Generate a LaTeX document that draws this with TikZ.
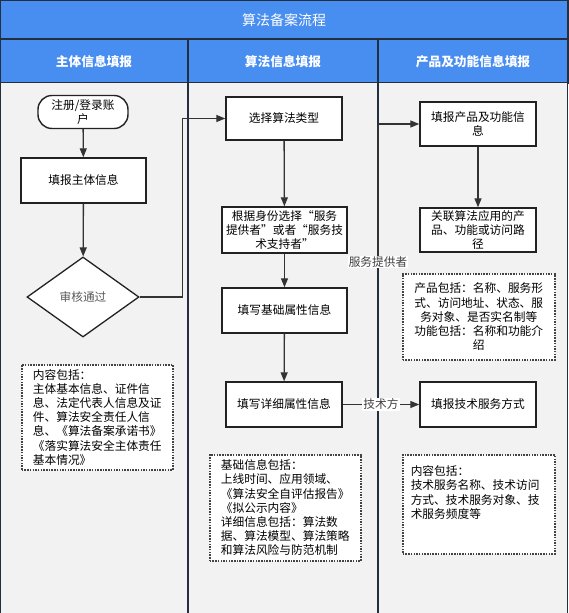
\documentclass[tikz,border=0pt]{standalone}
\usepackage{fontspec}
\setmainfont{Noto Sans CJK SC}
\usetikzlibrary{arrows.meta,shapes.geometric}
\definecolor{headblue}{RGB}{72,141,240}
\definecolor{lanegray}{RGB}{242,242,242}
\definecolor{lanedark}{RGB}{35,47,62}
\definecolor{boxdark}{RGB}{34,34,34}
\definecolor{flowgray}{RGB}{51,51,51}
\newcommand{\boxfont}{\fontsize{11.7}{14.2}\selectfont}

\begin{document}
\begin{tikzpicture}[x=1pt,y=-1pt,
    lanehead/.style={text=white, font=\fontsize{12.7}{15}\selectfont\bfseries},
    stepbox/.style={draw=boxdark, line width=1.4pt, fill=white, align=center,
      minimum width=116pt, minimum height=44pt, inner sep=1pt, font=\boxfont},
    startbox/.style={stepbox, rounded corners=14pt, minimum width=90pt, minimum height=33pt},
    checkbox/.style={draw=boxdark, line width=1.3pt, fill=white, diamond, inner sep=0pt,
      minimum width=112pt, minimum height=80pt, text=black!65, font=\boxfont},
    notebox/.style={draw=boxdark!85, line width=1.5pt, dash pattern=on 1.5pt off 1.2pt,
      fill=white, font=\boxfont, inner xsep=8pt, inner ysep=3pt},
    flow/.style={draw=flowgray, line width=1.3pt, -{Triangle[length=9pt,width=7pt]}},
    edgelabel/.style={fill=white, text=black!75, inner sep=1pt, font=\boxfont}]
      \useasboundingbox (0,0) rectangle (568,613);

      % Title bar and lane headers
      \draw[fill=headblue, draw=lanedark, line width=1.5pt] (0,0) rectangle (568,39);
      \node[text=white, font=\fontsize{14}{16}\selectfont] (title) at (284,20) {算法备案流程};
      \draw[fill=headblue, draw=lanedark, line width=1.5pt] (0,39) rectangle (188,83);
      \draw[fill=headblue, draw=lanedark, line width=1.5pt] (188,39) rectangle (378,83);
      \draw[fill=headblue, draw=lanedark, line width=1.5pt] (378,39) rectangle (568,83);
      \node[lanehead] (h1) at (94,62) {主体信息填报};
      \node[lanehead] (h2) at (283,62) {算法信息填报};
      \node[lanehead] (h3) at (473,62) {产品及功能信息填报};

      % Lane bodies
      \fill[lanegray] (0,83) rectangle (568,613);
      \draw[lanedark, line width=1.8pt] (0.5,83) -- (0.5,613);
      \draw[lanedark, line width=1.8pt] (188,83) -- (188,613);
      \draw[lanedark, line width=1.8pt] (378,83) -- (378,613);
      \draw[lanedark, line width=1.2pt] (567.5,83) -- (567.5,613);

      % Lane 1
      \node[startbox] (login) at (83,112) {注册/登录账\\户};
      \node[stepbox, minimum width=125pt, minimum height=45pt] (subj) at (83.5,180.5) {填报主体信息};
      \node[checkbox] (audit) at (83,297) {审核通过};
      \node[notebox, anchor=north west, minimum width=151pt, minimum height=105pt, align=left]
        (subjnote) at (21,364) {内容包括：\\主体基本信息、证件信\\息、法定代表人信息及证\\件、算法安全责任人信\\息、《算法备案承诺书》\\《落实算法安全主体责任\\基本情况》};

      % Lane 2
      \node[stepbox, minimum height=43pt] (select) at (284,118.5) {选择算法类型};
      \node[stepbox, minimum width=125pt, minimum height=46pt] (role) at (284.5,230)
        {根据身份选择“服务\\提供者”或者“服务技\\术支持者”};
      \node[stepbox, minimum width=125pt, minimum height=45pt] (basic) at (284.5,310.5) {填写基础属性信息};
      \node[stepbox, minimum height=45pt] (detail) at (284,404.5) {填写详细属性信息};
      \node[notebox, anchor=north west, minimum width=151pt, minimum height=106pt, align=left]
        (algonote) at (209,454) {基础信息包括：\\上线时间、应用领域、\\《算法安全自评估报告》\\《拟公示内容》\\详细信息包括：算法数\\据、算法模型、算法策略\\和算法风险与防范机制};

      % Lane 3
      \node[stepbox] (product) at (478,124) {填报产品及功能信\\息};
      \node[stepbox] (link) at (478,230) {关联算法应用的产\\品、功能或访问路\\径};
      \node[notebox, anchor=north west, minimum width=152pt, minimum height=86pt, align=center]
        (prodnote) at (402,273) {产品包括：名称、服务形\\式、访问地址、状态、服\\务对象、是否实名制等\\功能包括：名称和功能介\\绍};
      \node[stepbox, minimum height=45pt] (techway) at (478,404.5) {填报技术服务方式};
      \node[notebox, anchor=north west, minimum width=152pt, minimum height=99pt, inner ysep=0pt]
        (technote) at (402,454) {\parbox[c][97pt][t]{136pt}{\vspace{10pt}内容包括：\\技术服务名称、技术访问\\方式、技术服务对象、技\\术服务频度等}};

      % Connectors
      \coordinate (svcfrom) at (378,262);
      \draw[flow] (login) -- (subj);
      \draw[flow] (subj) -- (audit);
      \draw[flow] (audit.east) -- ++(43,0) |- (select.west);
      \draw[flow] (select) -- (role);
      \draw[flow] (role) -- (basic);
      \draw[flow] (basic) -- (detail);
      \draw[flow] (product) -- (link);
      \draw[flow] (svcfrom) |- (product.west);
      \node[edgelabel] (svclabel) at (svcfrom) {服务提供者};
      \draw[flow] (detail) -- (techway) node[midway, edgelabel] (techlabel) {技术方};
    \end{tikzpicture}
\end{document}
